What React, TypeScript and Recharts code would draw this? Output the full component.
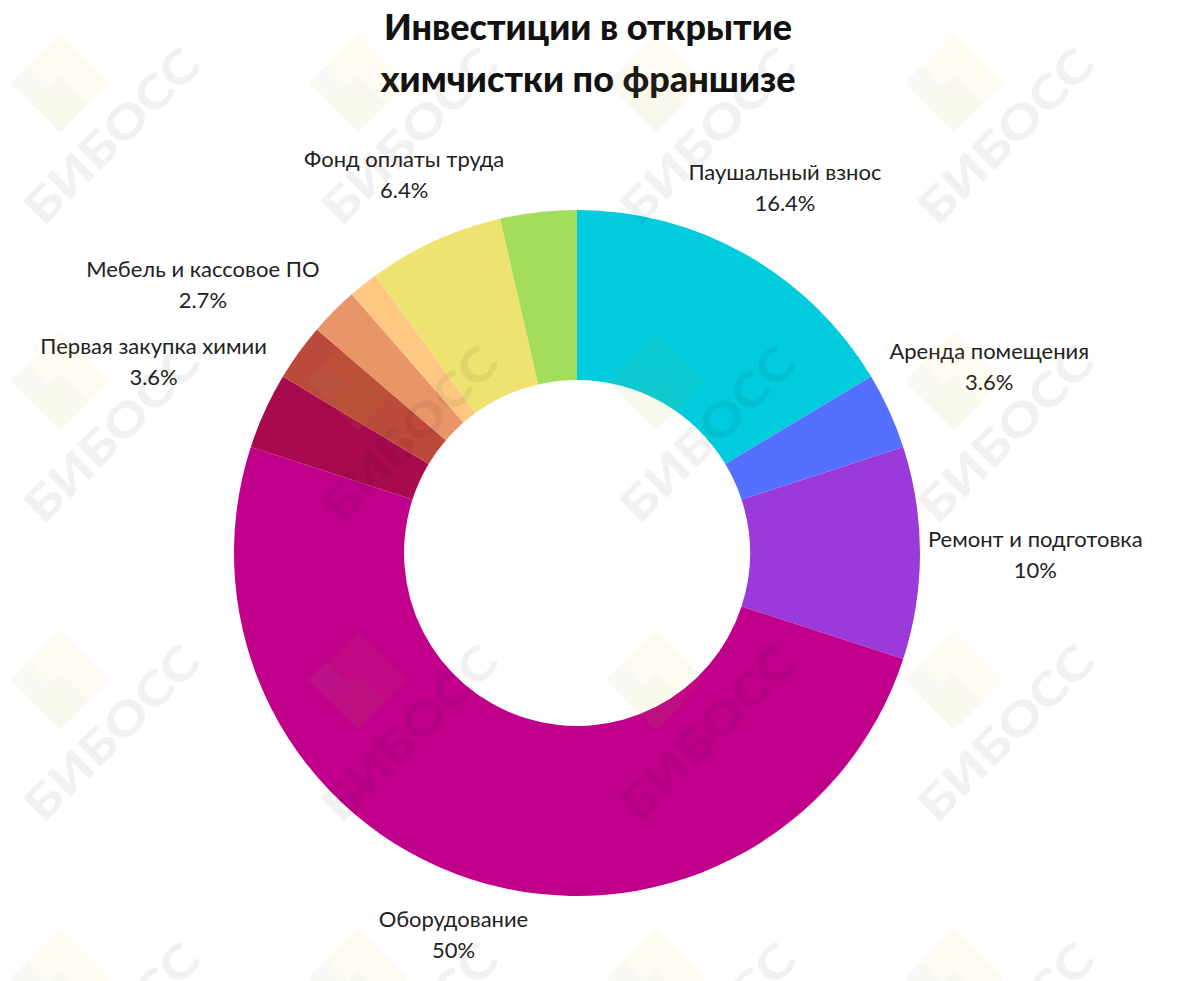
import { PieChart, Pie, Cell } from 'recharts';

const names = [
  'Паушальный взнос',
  'Аренда помещения',
  'Ремонт и подготовка',
  'Оборудование',
  'Первая закупка химии',
  'Мебель и кассовое ПО',
  'Прочие расходы',
  'Маркетинг',
  'Фонд оплаты труда',
  'Резерв',
];
const values = [16.4, 3.6, 10, 50, 3.6, 2.7, 2.3, 1.4, 6.4, 3.6];
const colors = [
  '#00CCDD',
  '#5370FE',
  '#9A3ADA',
  '#C0008B',
  '#A80A4F',
  '#BC4A3B',
  '#E8956A',
  '#FEC782',
  '#EEE271',
  '#A4DC5C',
];
// slices that carry a label in the original picture
const labeled = [
  'Паушальный взнос',
  'Аренда помещения',
  'Ремонт и подготовка',
  'Оборудование',
  'Первая закупка химии',
  'Мебель и кассовое ПО',
  'Фонд оплаты труда',
];

const data = names.map((name, i) => ({ name, value: values[i] }));

const FONT = 'Lato, "Noto Sans", sans-serif';
const LABEL_SIZE = 22;
const RAD = Math.PI / 180;

let ctx: CanvasRenderingContext2D | null = null;
function textWidth(s: string) {
  if (!ctx) ctx = document.createElement('canvas').getContext('2d');
  if (!ctx) return s.length * 11.5;
  ctx.font = `${LABEL_SIZE}px ${FONT}`;
  return ctx.measureText(s).width;
}

const renderLabel = (props: any) => {
  const { cx, cy, midAngle, outerRadius, name, value } = props;
  if (!labeled.includes(name)) return null;
  const pct = `${value}%`;
  const w = Math.max(textWidth(name), textWidth(pct));
  const halfH = 27;
  const c = Math.cos(-midAngle * RAD);
  const s = Math.sin(-midAngle * RAD);
  const r = outerRadius + 8 + (w / 2) * Math.abs(c) + halfH * Math.abs(s);
  const x = cx + r * c;
  const y = cy + r * s;
  return (
    <text
      x={x}
      y={y}
      textAnchor="middle"
      fill="#222"
      fontSize={LABEL_SIZE}
      fontFamily={FONT}
    >
      <tspan x={x} dy={-6}>{name}</tspan>
      <tspan x={x} dy={31}>{pct}</tspan>
    </text>
  );
};

// watermark tile anchors (logo centres)
const wmCols = [60, 358, 656, 954];
const wmRows = [83, 381, 680, 978];

function Watermark({ x, y }: { x: number; y: number }) {
  return (
    <g>
      <g transform={`translate(${x},${y}) rotate(45)`}>
        <rect x={-35} y={-35} width={70} height={70} fill="#F5B800" opacity={0.05} />
        <rect x={-5} y={-5} width={40} height={40} fill="#5DB85C" opacity={0.04} />
        <rect x={-35} y={10} width={30} height={25} fill="#4FC3F7" opacity={0.04} />
      </g>
      <g transform={`translate(${x + 52},${y + 53}) rotate(-45)`}>
        <text
          x={0}
          y={16}
          textAnchor="middle"
          fontFamily={FONT}
          fontWeight={900}
          fontSize={46}
          textLength={226}
          lengthAdjust="spacingAndGlyphs"
          fill="#000"
          opacity={0.05}
        >
          БИБОСС
        </text>
      </g>
    </g>
  );
}

export default function App() {
  return (
    <div
      style={{
        position: 'absolute',
        left: 0,
        top: 0,
        width: 1180,
        height: 981,
        background: '#fff',
        overflow: 'hidden',
      }}
    >
      <div
        style={{
          position: 'absolute',
          left: 0,
          width: 1176,
          top: 0,
          textAlign: 'center',
          fontFamily: FONT,
          fontWeight: 900,
          fontSize: 36,
          lineHeight: '52px',
          color: '#111',
        }}
      >
        Инвестиции в открытие
        <br />
        химчистки по франшизе
      </div>
      <div style={{ position: 'absolute', left: 0, top: 0 }}>
        <PieChart width={1180} height={981} margin={{ top: 0, right: 0, bottom: 0, left: 0 }}>
          <Pie
            data={data}
            dataKey="value"
            nameKey="name"
            cx={577}
            cy={553}
            innerRadius={173}
            outerRadius={343}
            startAngle={90}
            endAngle={-270}
            stroke="none"
            label={renderLabel}
            labelLine={false}
            isAnimationActive={false}
          >
            {data.map((d, i) => (
              <Cell key={`cell-${i}`} fill={colors[i]} />
            ))}
          </Pie>
        </PieChart>
      </div>
      <svg
        width={1180}
        height={981}
        style={{ position: 'absolute', left: 0, top: 0, pointerEvents: 'none' }}
      >
        {wmRows.map((yy) => wmCols.map((xx) => <Watermark key={`${xx}-${yy}`} x={xx} y={yy} />))}
      </svg>
    </div>
  );
}
